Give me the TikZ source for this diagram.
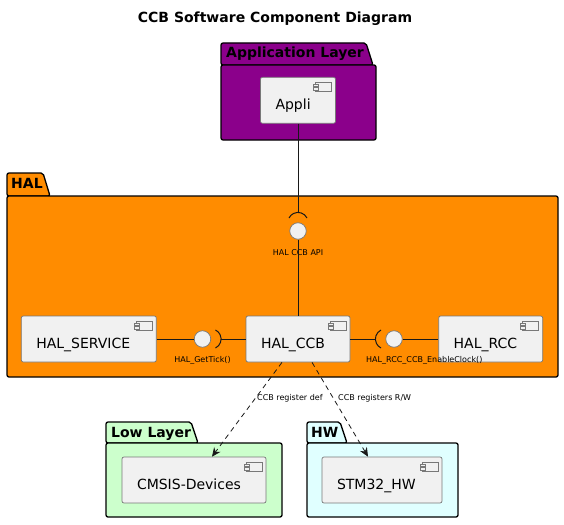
\documentclass[tikz,border=0pt]{standalone}
\usepackage{fontspec}
\setmainfont{DejaVu Sans}
\usepackage{xcolor}
\usepackage{tikz}
\usetikzlibrary{arrows.meta,positioning,calc}
\definecolor{AppPurple}{RGB}{139,0,139}
\definecolor{HalOrange}{RGB}{255,140,0}
\definecolor{LowGreen}{RGB}{204,255,204}
\definecolor{HwCyan}{RGB}{224,255,255}
\definecolor{CompFill}{RGB}{241,241,241}
\definecolor{CompEdge}{RGB}{120,120,120}
\definecolor{LineDark}{RGB}{24,24,24}

\begin{document}
\begin{tikzpicture}[
  x=1pt, y=1pt,
  pkg/.style={draw=black, line width=1.3pt, rounded corners=2pt},
  pkglabel/.style={anchor=base west, inner sep=0pt, font=\fontsize{14}{16}\selectfont\bfseries},
  comp/.style={draw=CompEdge, fill=CompFill, line width=0.7pt, rounded corners=2pt, align=left,
    inner xsep=15pt, inner ysep=0pt, minimum height=46pt, text height=18pt, text depth=0pt,
    font=\fontsize{14}{16}\selectfont,
    path picture={
      \draw[CompEdge, line width=0.6pt, sharp corners, fill=CompFill]
        ([shift={(-20pt,-5pt)}]path picture bounding box.north east) rectangle ++(16pt,-9pt);
      \draw[CompEdge, line width=0.6pt, sharp corners, fill=CompFill]
        ([shift={(-22pt,-7pt)}]path picture bounding box.north east) rectangle ++(5pt,-2.5pt);
      \draw[CompEdge, line width=0.6pt, sharp corners, fill=CompFill]
        ([shift={(-22pt,-10.5pt)}]path picture bounding box.north east) rectangle ++(5pt,-2.5pt);
    }},
  iface/.style={circle, draw=CompEdge, fill=CompFill, line width=0.7pt, minimum size=16.5pt, inner sep=0pt},
  sock/.style={draw=LineDark, line width=1pt},
  link/.style={draw=LineDark, line width=1pt},
  dep/.style={draw=LineDark, line width=0.8pt, dash pattern=on 5pt off 4pt,
    -{Stealth[length=9pt, width=8pt, inset=3pt]}},
  small/.style={font=\fontsize{8}{9}\selectfont, inner sep=0pt}
]
\useasboundingbox (0,0) rectangle (564,-524);

\node[anchor=base, inner sep=0pt, font=\fontsize{14}{16}\selectfont\bfseries] (title) at (275,-23) {CCB Software Component Diagram};

% packages
\filldraw[pkg, fill=AppPurple] (221,-65) -- (221,-43) -- (366,-43) -- (373,-65) -- cycle;
\filldraw[pkg, fill=AppPurple] (221,-65) rectangle (376,-140);
\node[pkglabel] (applbl) at (226,-58) {Application Layer};

\filldraw[pkg, fill=HalOrange] (7,-196) -- (7,-173) -- (43,-173) -- (50,-196) -- cycle;
\filldraw[pkg, fill=HalOrange] (7,-196) rectangle (558,-377);
\node[pkglabel] (hallbl) at (11,-188) {HAL};

\filldraw[pkg, fill=LowGreen] (106,-443) -- (106,-422) -- (191,-422) -- (198,-443) -- cycle;
\filldraw[pkg, fill=LowGreen] (106,-443) rectangle (282,-517);
\node[pkglabel] (lowlbl) at (111,-437) {Low Layer};

\filldraw[pkg, fill=HwCyan] (307,-443) -- (307,-422) -- (340,-422) -- (347,-443) -- cycle;
\filldraw[pkg, fill=HwCyan] (307,-443) rectangle (458,-517);
\node[pkglabel] (hwlbl) at (311,-437) {HW};

% components
\node[comp, text width=74pt] (ccb) at (298,-339) {HAL\_CCB};
\node[comp, text width=105pt, left=89pt of ccb] (service) {HAL\_SERVICE};
\node[comp, text width=74pt, right=88pt of ccb] (rcc) {HAL\_RCC};
\node[comp, text width=45pt, above=192pt of ccb] (appli) {Appli};
\node[comp, text width=114pt] (cmsis) at (194,-480) {CMSIS-Devices};
\node[comp, text width=90pt] (stm) at (382,-480) {STM32\_HW};

% interfaces
\node[iface] (api) at (298,-231) {};
\node[iface] (gettick) at (202.5,-339) {};
\node[iface] (rccif) at (394,-339) {};
\node[small] (apilbl) at (298,-253) {HAL CCB API};
\node[small] (gettlbl) at (202.5,-360) {HAL\_GetTick()};
\node[small, anchor=west] (rcclbl) at (366,-360) {HAL\_RCC\_CCB\_EnableClock()};

\coordinate (apisock) at ([yshift=10pt]api.north);
\coordinate (gettsock) at ([xshift=10pt]gettick.east);
\coordinate (rccsock) at ([xshift=-10pt]rccif.west);
\draw[sock] ([shift={(26:10pt)}]api.north) arc[start angle=26, end angle=154, radius=10pt];
\draw[sock] ([shift={(-64:10pt)}]gettick.east) arc[start angle=-64, end angle=64, radius=10pt];
\draw[sock] ([shift={(116:10pt)}]rccif.west) arc[start angle=116, end angle=244, radius=10pt];

\draw[link] (appli) -- (apisock);
\draw[link] (api) -- (ccb);
\draw[link] (service) -- (gettick);
\draw[link] (gettsock) -- (ccb);
\draw[link] (ccb) -- (rccsock);
\draw[link] (rccif) -- (rcc);

\draw[dep] ([xshift=-16pt]ccb.south) -- ([xshift=18pt]cmsis.north);
\draw[dep] ([xshift=14pt]ccb.south) -- ([xshift=-14pt]stm.north);
\node[small, anchor=west] (deflbl) at (257,-398) {CCB register def};
\node[small, anchor=west] (rwlbl) at (338,-398) {CCB registers R/W};
\end{tikzpicture}
\end{document}
